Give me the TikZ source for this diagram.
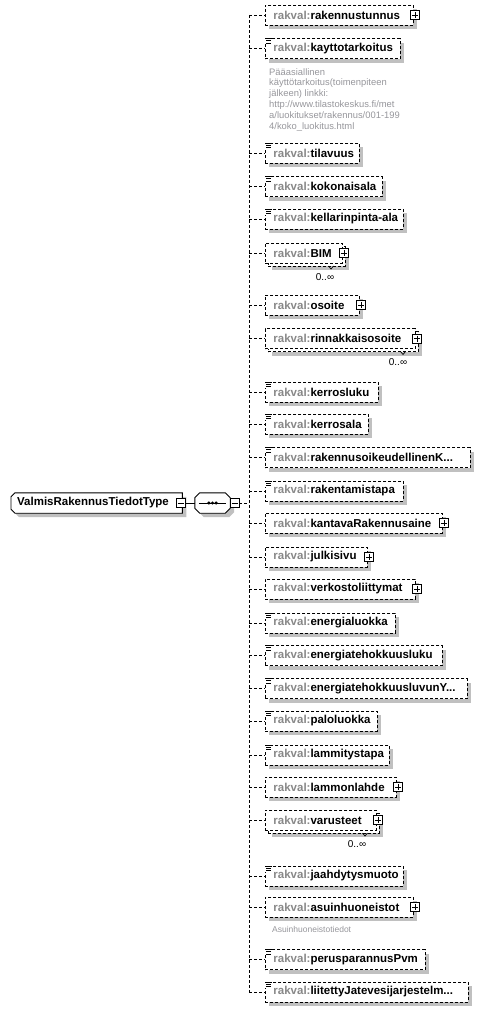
\documentclass[tikz,border=0pt]{standalone}
\usepackage{fontspec}
\setmainfont{Liberation Sans}
\usetikzlibrary{shadows,backgrounds}
\definecolor{shadowc}{RGB}{192,192,192}
\definecolor{prefixc}{RGB}{136,136,136}
\definecolor{annoc}{RGB}{150,150,155}
\tikzset{
 elem/.style={draw, dash pattern=on 3pt off 2pt, line width=0.9pt, fill=white, minimum height=20pt, inner ysep=0pt, inner xsep=8pt, anchor=west, align=left, font=\fontsize{11.5}{13}\selectfont\bfseries},
 elemshadow/.style={drop shadow={shadow xshift=4pt, shadow yshift=-4pt, fill=shadowc, opacity=1}},
 conn/.style={dash pattern=on 3pt off 2pt, line width=0.9pt},
 pmbox/.style={draw, solid, fill=white, minimum size=9pt, inner sep=0pt, line width=0.8pt},
 plusicon/.style={pmbox, path picture={\draw[line width=0.8pt] ([xshift=1.5pt]path picture bounding box.west) -- ([xshift=-1.5pt]path picture bounding box.east) ([yshift=-1.5pt]path picture bounding box.north) -- ([yshift=1.5pt]path picture bounding box.south);}},
 minusicon/.style={pmbox, path picture={\draw[line width=0.8pt] ([xshift=1.5pt]path picture bounding box.west) -- ([xshift=-1.5pt]path picture bounding box.east);}},
 multlabel/.style={font=\fontsize{10}{12}\selectfont, inner sep=0pt},
 anno/.style={font=\fontsize{9.4}{10.8}\selectfont, text=annoc, align=left, inner sep=0pt, anchor=north west},
}
\newcommand{\elembox}[4]{%
 \pgfmathsetmacro{\tw}{#3-265-16}%
 \node[elem, elemshadow, text width=\tw pt] (#1) at (265,#2) {\mbox{\textcolor{prefixc}{rakval:}#4}};%
 \coordinate (#1b) at (249,#2);%
 \draw[conn] (#1b) -- (#1.west);%
}
\newcommand{\elemmulti}[4]{%
 \pgfmathsetmacro{\tw}{#3-265-16}%
 \node[elem, elemshadow, text width=\tw pt] (#1back) at (268,#2+3) {};%
 \node[elem, text width=\tw pt] (#1) at (265,#2) {\mbox{\textcolor{prefixc}{rakval:}#4}};%
 \coordinate (#1b) at (249,#2);%
 \draw[conn] (#1b) -- (#1.west);%
}
\newcommand{\eqicon}[1]{%
 \begin{scope}[shift={(#1.north west)}]
 \fill[white] (-1,-1) rectangle (7,6);
 \draw[line width=0.8pt] (0,0.5) -- (6.5,0.5) (1,2.8) -- (6,2.8) (1,5.1) -- (6,5.1);
 \end{scope}}
\newcommand{\plusmark}[1]{\node[plusicon] (#1p) at ([xshift=1pt]#1.east) {};}
\newcommand{\occtick}[3]{\draw[line width=0.7pt] (#2-2.5,#3) -- (#2,#3+3) -- (#2+2.5,#3);}
\begin{document}
\begin{tikzpicture}[x=1pt,y=-1pt]
\useasboundingbox (0,0) rectangle (480,1009);
% type node
\node[font=\fontsize{11.5}{13}\selectfont\bfseries, minimum height=20pt, inner ysep=0pt, inner xsep=6pt, anchor=west, text width=159pt, align=left] (type) at (11,503) {ValmisRakennusTiedotType};
\node[minimum width=35pt, minimum height=20pt, inner sep=0pt] (seq) at (212.5,503) {};
\begin{scope}[on background layer]
\draw[line width=0.9pt, fill=white, drop shadow={shadow xshift=4pt, shadow yshift=-4pt, fill=shadowc, opacity=1}]
 ([xshift=4pt]type.north west) -- (type.north east) -- (type.south east) -- ([xshift=4pt]type.south west) -- ([yshift=4pt]type.south west) -- ([yshift=-4pt]type.north west) -- cycle;
\draw[line width=0.9pt, fill=white, drop shadow={shadow xshift=4pt, shadow yshift=-4pt, fill=shadowc, opacity=1}]
 ([xshift=5pt]seq.north west) -- ([xshift=-5pt]seq.north east) -- ([yshift=-5pt]seq.north east) -- ([yshift=5pt]seq.south east) -- ([xshift=-5pt]seq.south east) -- ([xshift=5pt]seq.south west) -- ([yshift=5pt]seq.south west) -- ([yshift=-5pt]seq.north west) -- cycle;
\end{scope}
\draw[line width=0.8pt] ([xshift=4pt]seq.west) -- ([xshift=-4pt]seq.east);
\fill ([xshift=-3.6pt]seq.center) circle (1.7);
\fill (seq.center) circle (1.7);
\fill ([xshift=3.6pt]seq.center) circle (1.7);
\node[minusicon] (tm) at (180.5,503) {};
\node[minusicon] (sm) at (234.5,503) {};
\draw[line width=0.9pt] (tm.east) -- (seq.west);
\coordinate (bmid) at (249,503);
\draw[conn] (sm.east) -- (bmid);
% elements
\elembox{e1}{15}{413}{rakennustunnus}\plusmark{e1}
\elembox{e2}{48.5}{400}{kayttotarkoitus}\eqicon{e2}
\elembox{e3}{153}{359}{tilavuus}\eqicon{e3}
\elembox{e4}{186.5}{382}{kokonaisala}\eqicon{e4}
\elembox{e5}{219}{403}{kellarinpinta-ala}\eqicon{e5}
\elemmulti{e6}{253}{342}{BIM}\plusmark{e6}
\elembox{e7}{305}{359}{osoite}\plusmark{e7}
\elemmulti{e8}{338.5}{415}{rinnakkaisosoite}\plusmark{e8}
\elembox{e9}{392}{378}{kerrosluku}\eqicon{e9}
\elembox{e10}{424}{368}{kerrosala}\eqicon{e10}
\elembox{e11}{457.5}{470}{rakennusoikeudellinenK...}\eqicon{e11}
\elembox{e12}{491}{403}{rakentamistapa}\eqicon{e12}
\elembox{e13}{523}{442}{kantavaRakennusaine}\plusmark{e13}
\elembox{e14}{557}{367}{julkisivu}\plusmark{e14}
\elembox{e15}{589}{415}{verkostoliittymat}\plusmark{e15}
\elembox{e16}{623}{395}{energialuokka}\eqicon{e16}
\elembox{e17}{655.5}{442}{energiatehokkuusluku}\eqicon{e17}
\elembox{e18}{688.5}{467}{energiatehokkuusluvunY...}\eqicon{e18}
\elembox{e19}{721}{377}{paloluokka}\eqicon{e19}
\elembox{e20}{755}{389}{lammitystapa}\eqicon{e20}
\elembox{e21}{787}{396}{lammonlahde}\plusmark{e21}
\elemmulti{e22}{820}{376}{varusteet}\plusmark{e22}
\elembox{e23}{876}{403}{jaahdytysmuoto}\eqicon{e23}
\elembox{e24}{907}{413}{asuinhuoneistot}\plusmark{e24}
\elembox{e25}{959.5}{425}{perusparannusPvm}\eqicon{e25}
\elembox{e26}{992}{468}{liitettyJatevesijarjestelm...}\eqicon{e26}
\draw[conn] (e1b) -- (e26b);
% multiplicities
\node[multlabel] (e6m) at (325,277) {0..∞};
\node[multlabel] (e8m) at (398,362) {0..∞};
\node[multlabel] (e22m) at (357,844) {0..∞};
\occtick{e6}{331}{266}
\occtick{e8}{403}{351.5}
\occtick{e22}{365}{833}
% annotations
\node[anno] (a2) at (269,68) {Pääasiallinen\\käyttötarkoitus(toimenpiteen\\jälkeen) linkki:\\http://www.tilastokeskus.fi/met\\a/luokitukset/rakennus/001-199\\4/koko\_luokitus.html};
\node[font=\fontsize{8.5}{10}\selectfont, text=annoc, inner sep=0pt, anchor=west] (a24) at (272,929) {Asuinhuoneistotiedot};
\end{tikzpicture}
\end{document}
